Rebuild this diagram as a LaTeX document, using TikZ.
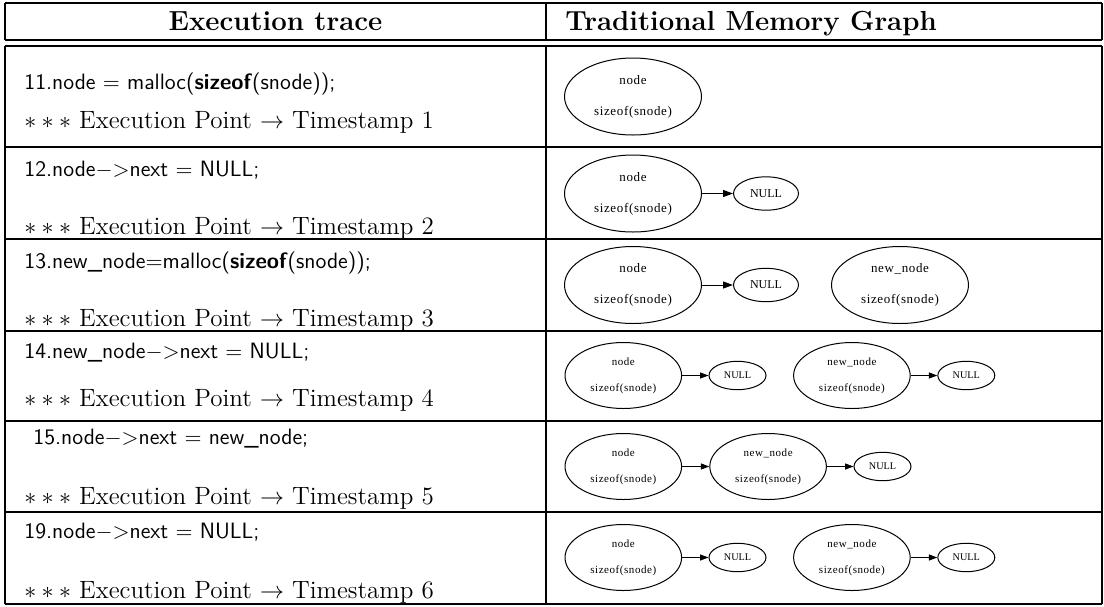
\documentclass[tikz,border=0pt]{standalone}
\usepackage{fontspec}
\newfontfamily\gvfont{Liberation Serif}[LetterSpace=5]
\newfontfamily\gvplain{Liberation Serif}
\usetikzlibrary{shapes.geometric,positioning,arrows.meta}

\tikzset{
  rule/.style={line width=0.7pt},
  head/.style={anchor=base, inner sep=0pt, font=\bfseries\fontsize{13.8}{17}\selectfont},
  code/.style={anchor=base west, inner sep=0pt, font=\sffamily\fontsize{11.1}{13}\selectfont},
  stamp/.style={anchor=base west, inner sep=0pt, font=\fontsize{12.5}{15}\selectfont},
  memnode/.style={draw, ellipse, line width=0.5pt, inner sep=0pt, align=center,
    minimum width=68.5pt, minimum height=38.5pt, font=\gvfont\fontsize{6.5}{15.5}\selectfont},
  memnull/.style={draw, ellipse, line width=0.5pt, inner sep=0pt,
    minimum width=32.5pt, minimum height=16.7pt, font=\gvplain\fontsize{6}{7}\selectfont},
  memnodesm/.style={memnode, minimum width=58.3pt, minimum height=33pt,
    font=\gvfont\fontsize{5.5}{13}\selectfont},
  memnullsm/.style={memnull, minimum width=28.5pt, minimum height=14.2pt,
    font=\gvplain\fontsize{5.1}{6}\selectfont},
  ptr/.style={line width=0.5pt, -{Triangle[length=5pt,width=3.5pt]}},
  ptrsm/.style={line width=0.5pt, -{Triangle[length=4.2pt,width=3pt]}}
}

\begin{document}
\begin{tikzpicture}[x=0.5pt,y=-0.5pt]
\useasboundingbox (0,0) rectangle (1104,606);

% table rules
\draw[rule] (5,3) -- (1102,3);
\draw[rule] (5,40) -- (1102,40);
\foreach \y in {46,147,239,331,421,512,604}
\draw[rule] (5,\y) -- (1102,\y);
\foreach \x in {5,546,1102}
{\draw[rule] (\x,3) -- (\x,40);
 \draw[rule] (\x,46) -- (\x,604);}

% header
\node[head] (hexec) at (275.5,30) {Execution trace};
\node[head, anchor=base west] (hmem) at (565,30) {Traditional Memory Graph};

% execution trace
\node[code] (c11) at (24,89) {11.node $=$ malloc(\textbf{sizeof}(snode));};
\node[code] (c12) at (24,176) {12.node$-$$>$next $=$ NULL;};
\node[code] (c13) at (24,268) {13.new\_node$=$malloc(\textbf{sizeof}(snode));};
\node[code] (c14) at (24,358) {14.new\_node$-$$>$next $=$ NULL;};
\node[code] (c15) at (33,444) {15.node$-$$>$next $=$ new\_node;};
\node[code] (c19) at (24,538) {19.node$-$$>$next $=$ NULL;};

\foreach \i/\y in {1/128,2/234,3/326,4/406,5/504,6/598}
\node[stamp] (ts\i) at (24,\y) {$***$ Execution Point $\rightarrow$ Timestamp \i};

% memory graphs
\node[memnode] (m1) at (633,96.5) {node\\sizeof(snode)};

\node[memnode] (m2) at (633,193.5) {node\\sizeof(snode)};
\node[memnull, right=15.5pt of m2] (m2n) {NULL};
\draw[ptr] (m2) -- (m2n);

\node[memnode] (m3) at (633,285) {node\\sizeof(snode)};
\node[memnull, right=15.5pt of m3] (m3n) {NULL};
\node[memnode, right=16pt of m3n] (m3b) {new\_node\\sizeof(snode)};
\draw[ptr] (m3) -- (m3n);

\node[memnodesm] (m4) at (623.3,375.5) {node\\sizeof(snode)};
\node[memnullsm, right=13.2pt of m4] (m4n) {NULL};
\node[memnodesm, right=13.3pt of m4n] (m4b) {new\_node\\sizeof(snode)};
\node[memnullsm, right=13.3pt of m4b] (m4bn) {NULL};
\draw[ptrsm] (m4) -- (m4n);
\draw[ptrsm] (m4b) -- (m4bn);

\node[memnodesm] (m5) at (623.3,466.5) {node\\sizeof(snode)};
\node[memnodesm, right=13.6pt of m5] (m5b) {new\_node\\sizeof(snode)};
\node[memnullsm, right=13.3pt of m5b] (m5bn) {NULL};
\draw[ptrsm] (m5) -- (m5b);
\draw[ptrsm] (m5b) -- (m5bn);

\node[memnodesm] (m6) at (623.3,557.5) {node\\sizeof(snode)};
\node[memnullsm, right=13.2pt of m6] (m6n) {NULL};
\node[memnodesm, right=13.3pt of m6n] (m6b) {new\_node\\sizeof(snode)};
\node[memnullsm, right=13.3pt of m6b] (m6bn) {NULL};
\draw[ptrsm] (m6) -- (m6n);
\draw[ptrsm] (m6b) -- (m6bn);
\end{tikzpicture}
\end{document}
